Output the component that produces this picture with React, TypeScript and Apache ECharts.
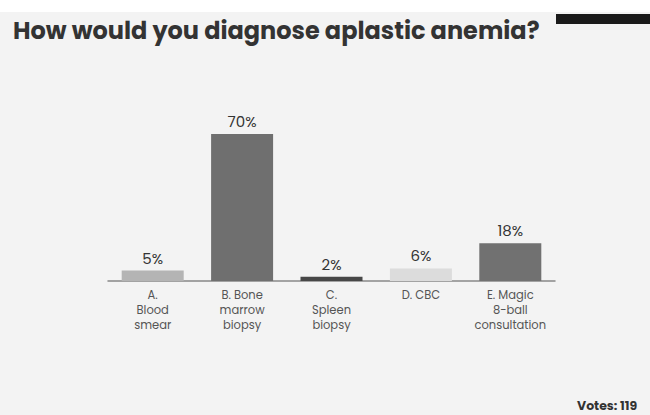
import React, { useEffect, useRef } from "react";
import * as echarts from "echarts";

const categories = [
  "A.\nBlood\nsmear",
  "B. Bone\nmarrow\nbiopsy",
  "C.\nSpleen\nbiopsy",
  "D. CBC",
  "E. Magic\n8-ball\nconsultation",
];
const values = [5, 70, 2, 6, 18];
const barColors = ["#b4b4b4", "#6f6f6f", "#474747", "#dcdcdc", "#717171"];
const titleText = "How would you diagnose aplastic anemia?";
const votesText = "Votes: 119";

const FONT = "Poppins, 'Open Sans', sans-serif";

export default function App() {
  const ref = useRef<HTMLDivElement>(null);
  useEffect(() => {
    if (!ref.current) return;
    const chart = echarts.init(ref.current, null, { renderer: "svg" });
    chart.setOption({
      animation: false,
      backgroundColor: "#f3f3f3",
      title: {
        text: titleText,
        left: 8,
        top: 13,
        textStyle: {
          fontFamily: FONT,
          fontSize: 24,
          fontWeight: "bold",
          color: "#333",
        },
      },
      graphic: [
        { type: "rect", left: 0, top: 0, shape: { width: 650, height: 12 }, style: { fill: "#ffffff" }, z: -1 },
        { type: "rect", left: 556, top: 14, shape: { width: 94, height: 10 }, style: { fill: "#1a1a1a" } },
        {
          type: "text",
          left: 577,
          top: 399,
          style: {
            text: votesText,
            fontFamily: FONT,
            fontSize: 12.5,
            fontWeight: "bold",
            fill: "#333",
          },
        },
      ],
      grid: { left: 108, right: 95, top: 134, bottom: 134 },
      xAxis: {
        type: "category",
        data: categories,
        axisLine: { lineStyle: { color: "#888", width: 1.5 } },
        axisTick: { show: false },
        axisLabel: {
          interval: 0,
          color: "#555",
          fontSize: 11.5,
          lineHeight: 15,
          margin: 6,
          fontFamily: FONT,
        },
      },
      yAxis: {
        type: "value",
        min: 0,
        max: 70,
        show: false,
        splitLine: { show: false },
      },
      series: [
        {
          type: "bar",
          data: values.map((v, i) => ({ value: v, itemStyle: { color: barColors[i] } })),
          barWidth: 62,
          label: {
            show: true,
            position: "top",
            formatter: "{c}%",
            color: "#333",
            fontSize: 15,
            distance: 5,
            fontFamily: FONT,
          },
        },
      ],
    });
    return () => chart.dispose();
  }, []);
  return (
    <div
      ref={ref}
      style={{ position: "absolute", left: 0, top: 0, width: 650, height: 415 }}
    />
  );
}
